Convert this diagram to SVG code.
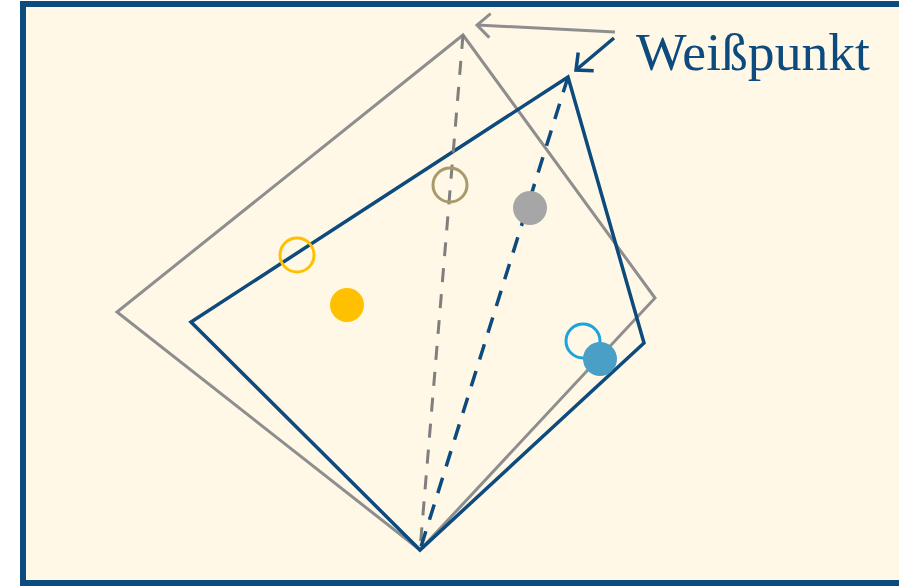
<svg xmlns="http://www.w3.org/2000/svg" width="899" height="588" viewBox="0 0 899 588">
<defs>
<style>
.gray{fill:none;stroke:#8E8E8E;stroke-width:3;stroke-linejoin:miter}
.blue{fill:none;stroke:#0D4A7E;stroke-width:3.5;stroke-linejoin:miter}
.gdash{fill:none;stroke:#7F7F7F;stroke-width:3;stroke-dasharray:14 12}
.bdash{fill:none;stroke:#0D4A7E;stroke-width:3.5;stroke-dasharray:16 12}
.ring{fill:none;stroke-width:3}
.lbl{font-family:"Liberation Serif","DejaVu Serif",serif;font-size:52px;fill:#0D4A7E}
</style>
<marker id="ag" markerWidth="24" markerHeight="28" refX="20" refY="14" orient="auto" markerUnits="userSpaceOnUse" viewBox="0 0 24 28">
<path d="M7,2 L20,14 L7,26" fill="none" stroke="#8E8E8E" stroke-width="3"/>
</marker>
<marker id="ab" markerWidth="24" markerHeight="28" refX="20" refY="14" orient="auto" markerUnits="userSpaceOnUse" viewBox="0 0 24 28">
<path d="M7,2 L20,14 L7,26" fill="none" stroke="#0D4A7E" stroke-width="3.5"/>
</marker>
</defs>
<rect x="23" y="4" width="900" height="579" fill="#FFF8E7" stroke="#0D4A7E" stroke-width="6"/>
<g id="gamut-gray">
<polygon class="gray" points="463,35 655,298 420,550 117,312"/>
</g>
<g id="gamut-blue">
<polygon class="blue" points="568,77 644,343 420,550 191,322"/>
</g>
<g id="connectors">
<line class="gdash" x1="463" y1="35" x2="420" y2="550"/>
<line class="bdash" x1="568" y1="77" x2="420" y2="550"/>
<line x1="615" y1="32" x2="477" y2="25" stroke="#8E8E8E" stroke-width="3" marker-end="url(#ag)"/>
<line x1="614" y1="38" x2="576" y2="70" stroke="#0D4A7E" stroke-width="3.5" marker-end="url(#ab)"/>
</g>
<g id="point-olive"><circle class="ring" cx="450" cy="185" r="17" stroke="#A89A6C"/></g>
<g id="point-gray"><circle cx="530" cy="208" r="17" fill="#A6A6A6"/></g>
<g id="point-yellow-ring"><circle class="ring" cx="297" cy="255" r="17" stroke="#FFC000"/></g>
<g id="point-yellow"><circle cx="347" cy="305" r="17" fill="#FFC000"/></g>
<g id="point-cyan-ring"><circle class="ring" cx="583" cy="341" r="17" stroke="#1AA3DD"/></g>
<g id="point-cyan"><circle cx="600" cy="359" r="17" fill="#4A9FC6"/></g>
<g id="label"><text class="lbl" x="636" y="70" textLength="234" lengthAdjust="spacingAndGlyphs">Weißpunkt</text></g>
</svg>
